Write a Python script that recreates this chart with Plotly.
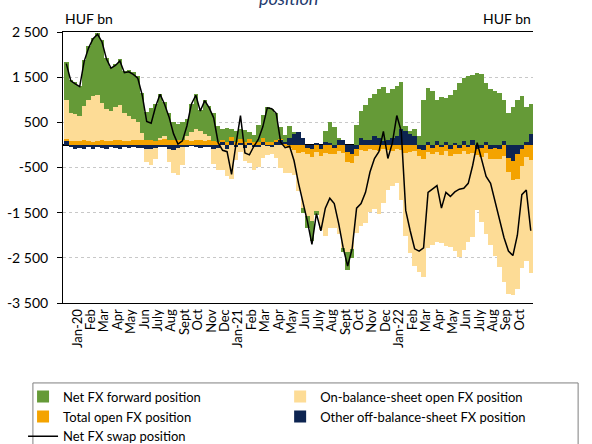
import plotly.graph_objects as go

# x position in months; 0 = Jan-20 label, three periods per month
periods = [-5 / 6 + k / 3 for k in range(105)]

month_labels = ["Jan-20", "Feb", "Mar", "Apr", "May", "Jun", "July", "Aug", "Sept", "Oct", "Nov", "Dec",
                "Jan-21", "Feb", "Mar", "Apr", "May", "Jun", "July", "Aug", "Sept", "Oct", "Nov", "Dec",
                "Jan-22", "Feb", "Mar", "Apr", "May", "Jun", "July", "Aug", "Sep", "Oct"]

forward = [840, 730, 700, 670, 1030, 1180, 1280, 1380, 1380, 1130,
           970, 970, 1010, 930, 1000, 1030, 1020, 900, 600, 700,
           800, 980, 740, 600, 400, 350, 380, 360, 620, 770,
           480, 750, 650, 620, 340, 240, 300, 190, 250, 220,
           250, 160, 170, 370, 510, 770, 750, 590, 250, 160,
           270, 20, 0, -100, -250, -450, -100, 0, 240, 450,
           400, 30, -100, -400, -200, 450, 600, 780, 910, 930,
           1080, 1210, 1030, 1090, 1100, 1050, 120, 50, 150, 200,
           1000, 1200, 1200, 920, 1050, 980, 1100, 1170, 1380, 1400,
           1530, 1440, 1600, 1560, 1310, 1240, 1200, 1160, 920, 700,
           850, 1000, 1080, 790, 650]

on_balance = [850, 630, 590, 560, 760, 910, 1010, 1010, 830, 710,
              670, 730, 780, 610, 560, 470, 390, 160, -300, -350,
              -250, 50, 80, -300, -500, -600, -400, 100, 200, 250,
              200, 150, 100, -350, -500, -550, -600, -750, -300, -150,
              -300, -400, -500, -450, -300, -200, -150, -300, -500, -600,
              -570, -550, -850, -1250, -1390, -1420, -1300, -1650, -1850, -1650,
              -1640, -1850, -2100, -2000, -1900, -1700, -1680, -1600, -1380, -1300,
              -1380, -1200, -880, -780, -750, -1100, -1840, -2240, -2540, -2560,
              -2620, -2140, -2030, -1990, -1940, -2090, -2010, -2140, -2280, -2190,
              -1950, -1850, -1220, -1440, -1800, -1900, -2140, -2400, -2800, -2700,
              -2550, -2450, -2270, -2300, -2500]

total_open = [40, 80, 95, 85, 100, 90, 75, 95, 105, 90,
              85, 100, 110, 95, 90, 105, 115, 100, 120, 110,
              95, 105, 125, 115, 100, 110, 120, 105, 95, 110,
              100, 90, 105, 85, 70, 60, 75, 90, 65, 80,
              70, 85, 60, 75, 90, 70, 55, 40, 20, -20,
              -60, -120, -170, -150, -130, -180, -160, -140, -170, -190,
              -150, -130, -180, -220, -200, -150, -110, -130, -100, -120,
              -140, -90, -110, -130, -100, -120, -180, -160, -140, -170,
              -190, -150, -130, -160, -180, -140, -170, -200, -150, -130,
              -160, -180, -140, -200, -170, -220, -250, -210, -240, -300,
              -420, -550, -380, -260, -330]

other_off = [100, -40, -80, -60, -100, -50, -80, -40, -70, -90,
             -50, -60, -80, -40, -60, -50, -70, -60, -80, -100,
             -60, -40, -50, -80, -120, -60, -40, -50, -30, -40,
             -60, -40, -50, -80, -60, 60, -80, 80, -40, 50,
             -60, 40, -50, -40, 60, -30, -50, 80, 120, 60,
             150, 250, 280, 150, -60, -80, 40, -100, 60, 50,
             -60, 120, 100, -150, -200, -100, 150, 100, 120, 200,
             150, 80, 120, 150, 200, 350, 300, 250, 200, -80,
             -120, 60, -60, 80, -50, 60, -80, 50, -60, 80,
             -50, 100, -80, -60, 70, -100, -60, -100, 80, -300,
             -350, -200, -80, 60, 250]

swap = [1800, 1420, 1350, 1290, 1850, 2150, 2350, 2450, 2280, 1900,
        1700, 1760, 1860, 1600, 1620, 1560, 1480, 1100, 520, 480,
        850, 1120, 900, 620, 250, 20, 90, 420, 900, 1100,
        750, 980, 820, 600, 50, -120, -150, -650, 20, 650,
        -180, -220, -30, 120, 400, 820, 800, 700, 60, -60,
        -30, -350, -850, -1250, -1700, -2200, -1520, -1900, -1400, -1180,
        -1300, -1750, -2280, -2680, -2300, -1400, -1300, -1050, -600, -300,
        -150, 300, -300, 40, 650, 300, -1450, -1900, -2300, -2350,
        -2280, -1050, -980, -900, -1400, -1050, -1140, -1040, -980, -960,
        -850, -450, 50, -330, -700, -850, -1250, -1600, -2050, -2350,
        -2450, -2000, -1100, -1000, -1900]

y_ticks = [-3500, -2500, -1500, -500, 500, 1500, 2500]
y_labels = ["-3 500", "-2 500", "-1 500", "-500", "500", "1 500", "2 500"]

FONT = "Lato"

fig = go.Figure()
# first bar trace sits nearest the zero line
fig.add_trace(go.Bar(x=periods, y=other_off, name="Other off-balance-sheet FX position",
                     marker_color="#0d2451", legend="legend2", legendrank=2))
fig.add_trace(go.Bar(x=periods, y=total_open, name="Total open FX position",
                     marker_color="#f4a300", legendrank=2))
fig.add_trace(go.Bar(x=periods, y=on_balance, name="On-balance-sheet open FX position",
                     marker_color="#fddc96", legend="legend2", legendrank=1))
fig.add_trace(go.Bar(x=periods, y=forward, name="Net FX forward position",
                     marker_color="#659a37", legendrank=1))
fig.update_traces(width=1 / 3, marker_line_width=0)
fig.add_trace(go.Scatter(x=periods, y=swap, mode="lines", name="Net FX swap position",
                         line=dict(color="black", width=1.5), legendrank=3))

legend_style = dict(orientation="v", yanchor="top", xanchor="left", traceorder="normal",
                    font=dict(size=13), bgcolor="rgba(0,0,0,0)", borderwidth=0,
                    itemwidth=30, tracegroupgap=0)

fig.update_layout(
    width=592, height=444,
    margin=dict(l=63, r=59, t=32, b=141, autoexpand=False),
    paper_bgcolor="white", plot_bgcolor="white",
    barmode="relative", bargap=0,
    font=dict(family=FONT, size=14, color="black"),
    xaxis=dict(range=[-1.08, 34.0], tickvals=list(range(len(month_labels))), ticktext=month_labels,
               tickangle=-90, tickfont=dict(size=13), showgrid=False, zeroline=False,
               showline=True, linecolor="black", linewidth=1, mirror=True, ticks=""),
    yaxis=dict(range=[-3500, 2500], tickvals=y_ticks, ticktext=y_labels, showgrid=True,
               gridcolor="#c8c8c8", griddash="dot", gridwidth=1,
               zeroline=True, zerolinecolor="black", zerolinewidth=1.5,
               showline=True, linecolor="black", linewidth=1, ticks="outside", ticklen=5,
               tickcolor="black", ticklabelstandoff=6),
    yaxis2=dict(range=[-3500, 2500], tickvals=y_ticks, ticktext=y_labels, overlaying="y",
                side="right", showgrid=False, zeroline=False, showline=True, linecolor="black",
                linewidth=1, ticks="outside", ticklen=5, tickcolor="black", ticklabelstandoff=6),
    legend=dict(x=-0.085, y=-0.29, **legend_style),
    legend2=dict(x=0.462, y=-0.29, **legend_style),
    showlegend=True,
)

# frame around both legend columns
fig.add_shape(type="rect", xref="paper", yref="paper", x0=-0.064, x1=1.096, y0=-0.54, y1=-0.295,
              line=dict(color="#7f7f7f", width=1), fillcolor="rgba(0,0,0,0)", layer="above")

fig.add_annotation(text="HUF bn", xref="paper", yref="paper", x=0, y=1.048, xanchor="left",
                   yanchor="middle", showarrow=False, font=dict(size=14))
fig.add_annotation(text="HUF bn", xref="paper", yref="paper", x=1, y=1.048, xanchor="right",
                   yanchor="middle", showarrow=False, font=dict(size=14))
# title sits mostly above the top edge, as in the cropped original
fig.add_annotation(text="<i>position</i>", xref="paper", yref="paper", x=0.48, y=1.077,
                   xanchor="center", yanchor="bottom", showarrow=False,
                   font=dict(size=18, color="#1f3a6e"))

# drop the default 8px body margin so the figure fills the window
fig.write_html("out.html", config={"displayModeBar": False},
               post_script="document.body.style.margin='0';")
